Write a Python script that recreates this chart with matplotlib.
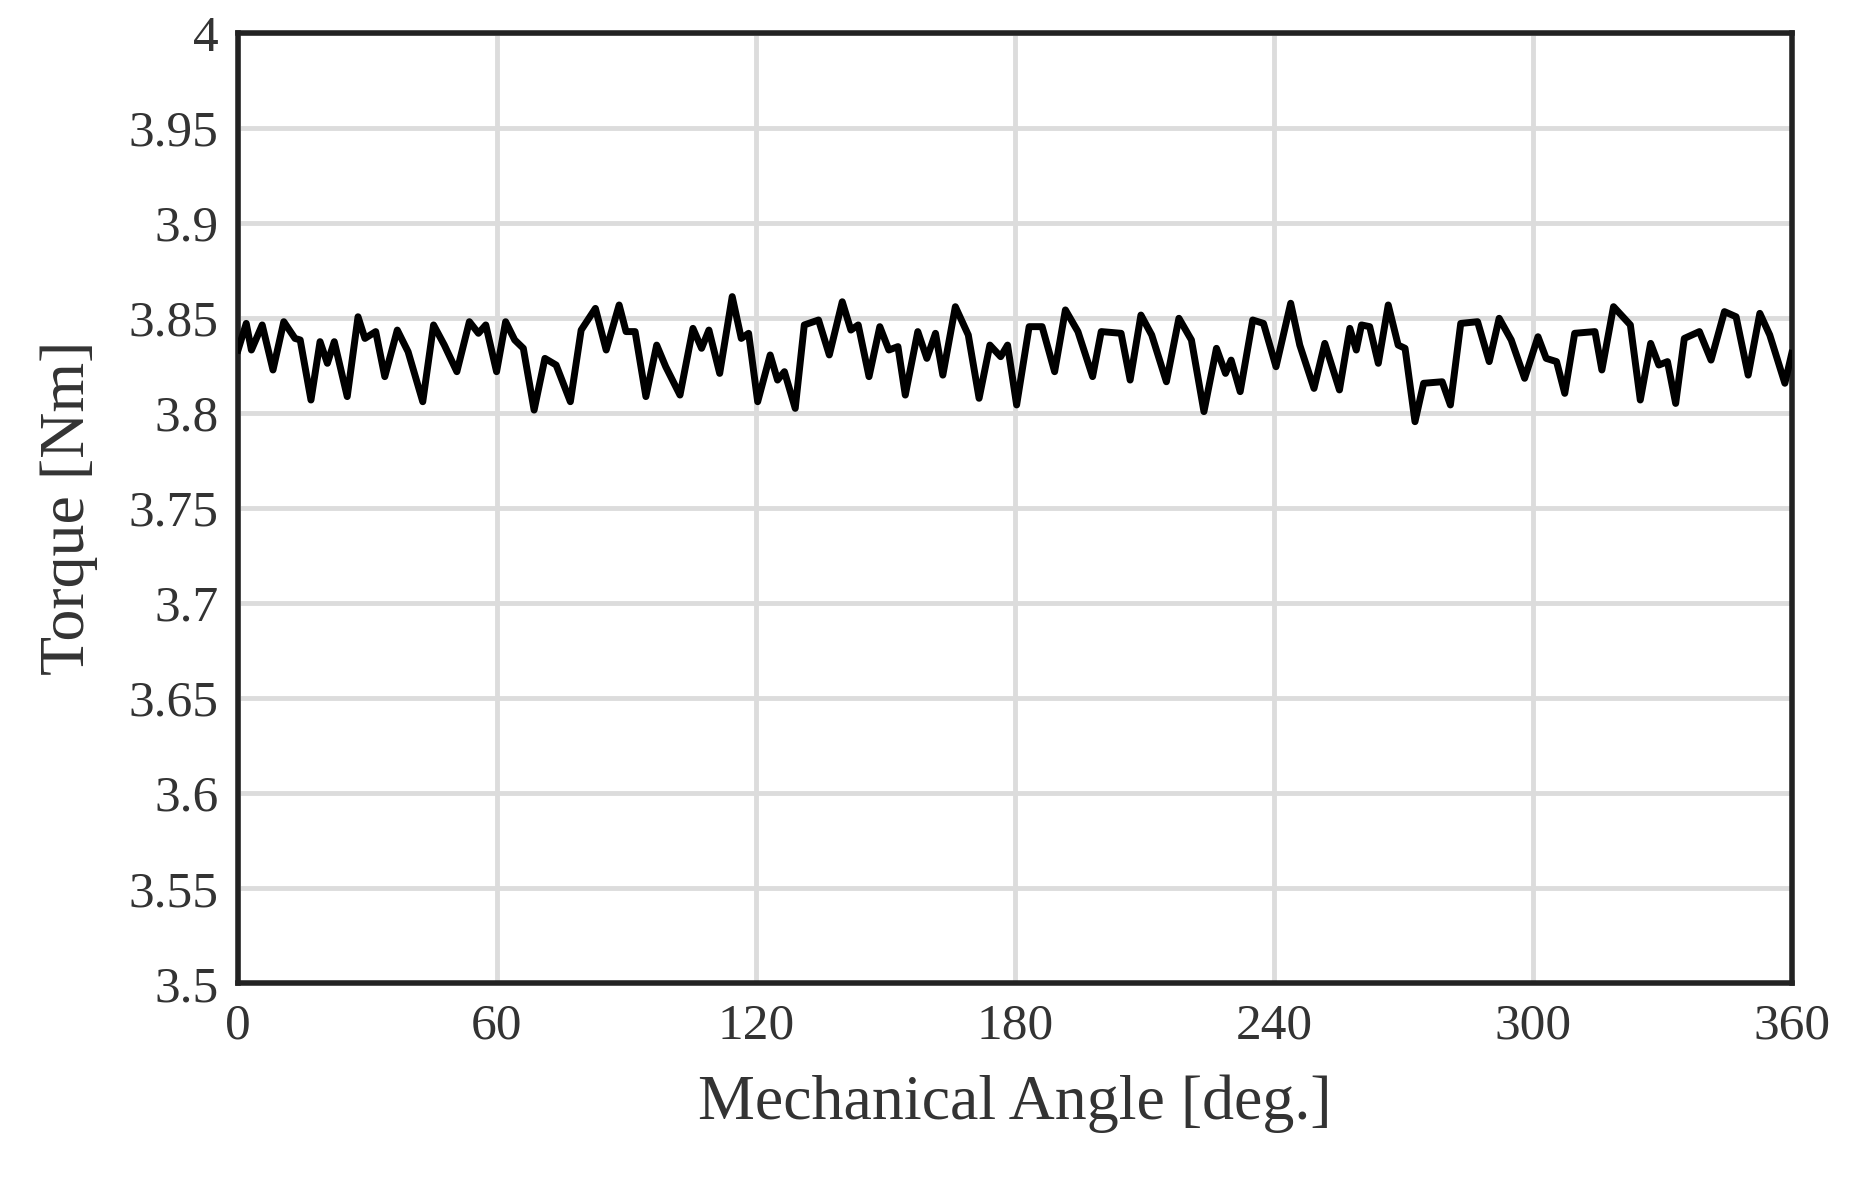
import matplotlib
matplotlib.use("Agg")
import matplotlib.pyplot as plt

angle = [0, 1.9, 3.1, 5.6, 8.1, 10.6, 13.2, 14.4, 16.9, 19, 20.7, 22.3, 25.3, 27.8, 29.4, 31.9, 34, 36.9,
         39.4, 42.8, 45.3, 47.8, 50.7, 53.6, 55.7, 57.4, 59.9, 62, 64.1, 66.1, 68.6, 71.1, 73.7, 77, 79.5,
         82.8, 85.3, 88.3, 89.9, 92, 94.5, 97, 99.1, 102.4, 105.4, 107.4, 109.1, 111.6, 114.5, 116.6, 118.3,
         120.4, 123.3, 125,
         126.6, 129.1, 131.2, 134.5, 137, 140, 142, 143.7, 146.2, 148.7, 150.8, 152.9, 154.6, 157.5, 159.6,
         161.6, 163.3, 166.2, 169.2, 171.7, 174.2, 176.7, 178.3, 180.4, 183.3, 186.3, 189.2, 191.7, 194.6,
         198, 200, 204.6, 206.7, 209.2, 211.7, 215.1, 218, 220.9, 223.8, 226.7, 228.8, 230.1, 232.2, 235.1,
         237.6, 240.5, 243.9, 246, 249.3, 251.8,
         255.2, 257.6, 259.1, 260.3, 262.2, 264.2, 266.5, 268.8, 270.4, 272.7, 274.7, 279, 280.9, 283.3,
         287.2, 289.9, 292.2, 295, 298.1, 301.2, 303.1, 305.5, 307.4, 309.7, 314.4, 316, 318.7, 322.6, 324.9,
         327.3, 329.2, 331.2, 333.1, 335.1, 338.6, 341.3, 344.4, 347.1, 349.9, 352.6, 354.9, 358.4, 360]
torque = [3.8332, 3.8472, 3.8332, 3.8464, 3.8227, 3.8481, 3.8393, 3.8385, 3.8069, 3.8376, 3.8262, 3.8376,
          3.8087, 3.8507, 3.8393, 3.8429, 3.8192, 3.8437, 3.8323, 3.8060, 3.8464, 3.8358, 3.8218, 3.8481,
          3.8420, 3.8464, 3.8218, 3.8481, 3.8385, 3.8341, 3.8016, 3.8288, 3.8253, 3.8060, 3.8437, 3.8551,
          3.8332, 3.8569, 3.8429, 3.8429, 3.8087, 3.8358, 3.8244, 3.8095, 3.8446, 3.8341, 3.8437, 3.8209,
          3.8613, 3.8393, 3.8420, 3.8060, 3.8306, 3.8174,
          3.8218, 3.8025, 3.8464, 3.8490, 3.8306, 3.8586, 3.8437, 3.8464, 3.8192, 3.8455, 3.8332, 3.8350,
          3.8095, 3.8429, 3.8288, 3.8420, 3.8200, 3.8560, 3.8411, 3.8078, 3.8358, 3.8297, 3.8358, 3.8043,
          3.8455, 3.8455, 3.8218, 3.8543, 3.8429, 3.8192, 3.8429, 3.8420, 3.8174, 3.8516, 3.8411, 3.8165,
          3.8499, 3.8385, 3.8008, 3.8341, 3.8209, 3.8279, 3.8113, 3.8490, 3.8472, 3.8244, 3.8578, 3.8358,
          3.8130, 3.8367,
          3.8122, 3.8446, 3.8332, 3.8464, 3.8455, 3.8262, 3.8569, 3.8358, 3.8341, 3.7955, 3.8157, 3.8165,
          3.8043, 3.8472, 3.8481, 3.8271, 3.8499, 3.8385, 3.8183, 3.8402, 3.8288, 3.8271, 3.8104, 3.8420,
          3.8429, 3.8227, 3.8560, 3.8464, 3.8069, 3.8367, 3.8253, 3.8271, 3.8051, 3.8393, 3.8429, 3.8279,
          3.8534, 3.8507, 3.8200, 3.8525, 3.8411, 3.8157, 3.8314]

xticks = [0, 60, 120, 180, 240, 300, 360]
yticks = [3.5, 3.55, 3.6, 3.65, 3.7, 3.75, 3.8, 3.85, 3.9, 3.95, 4.0]
ylabels = ["3.5", "3.55", "3.6", "3.65", "3.7", "3.75", "3.8", "3.85", "3.9", "3.95", "4"]

plt.rcParams['font.family'] = ['Liberation Serif', 'DejaVu Serif']
fig = plt.figure(figsize=(18.51, 11.79), dpi=100)
ax = fig.add_axes([0.1286, 0.166, 0.968 - 0.1286, 0.806])
ax.plot(angle, torque, color='black', lw=5, zorder=3)
ax.set_xlim(0, 360)
ax.set_ylim(3.5, 4.0)
ax.set_xticks(xticks)
ax.set_yticks(yticks)
ax.set_yticklabels(ylabels)
ax.grid(True, color='#dcdcdc', lw=3.5, zorder=0)
ax.set_axisbelow(True)
for s in ax.spines.values():
    s.set_linewidth(4)
    s.set_color('#222222')
ax.tick_params(length=0, labelsize=37, pad=14, colors='#333333')
ax.set_xlabel('Mechanical Angle [deg.]', fontsize=46, labelpad=18, color='#333333')
ax.set_ylabel('Torque [Nm]', fontsize=46, labelpad=22, color='#333333')
fig.savefig('out.png', dpi=100)
